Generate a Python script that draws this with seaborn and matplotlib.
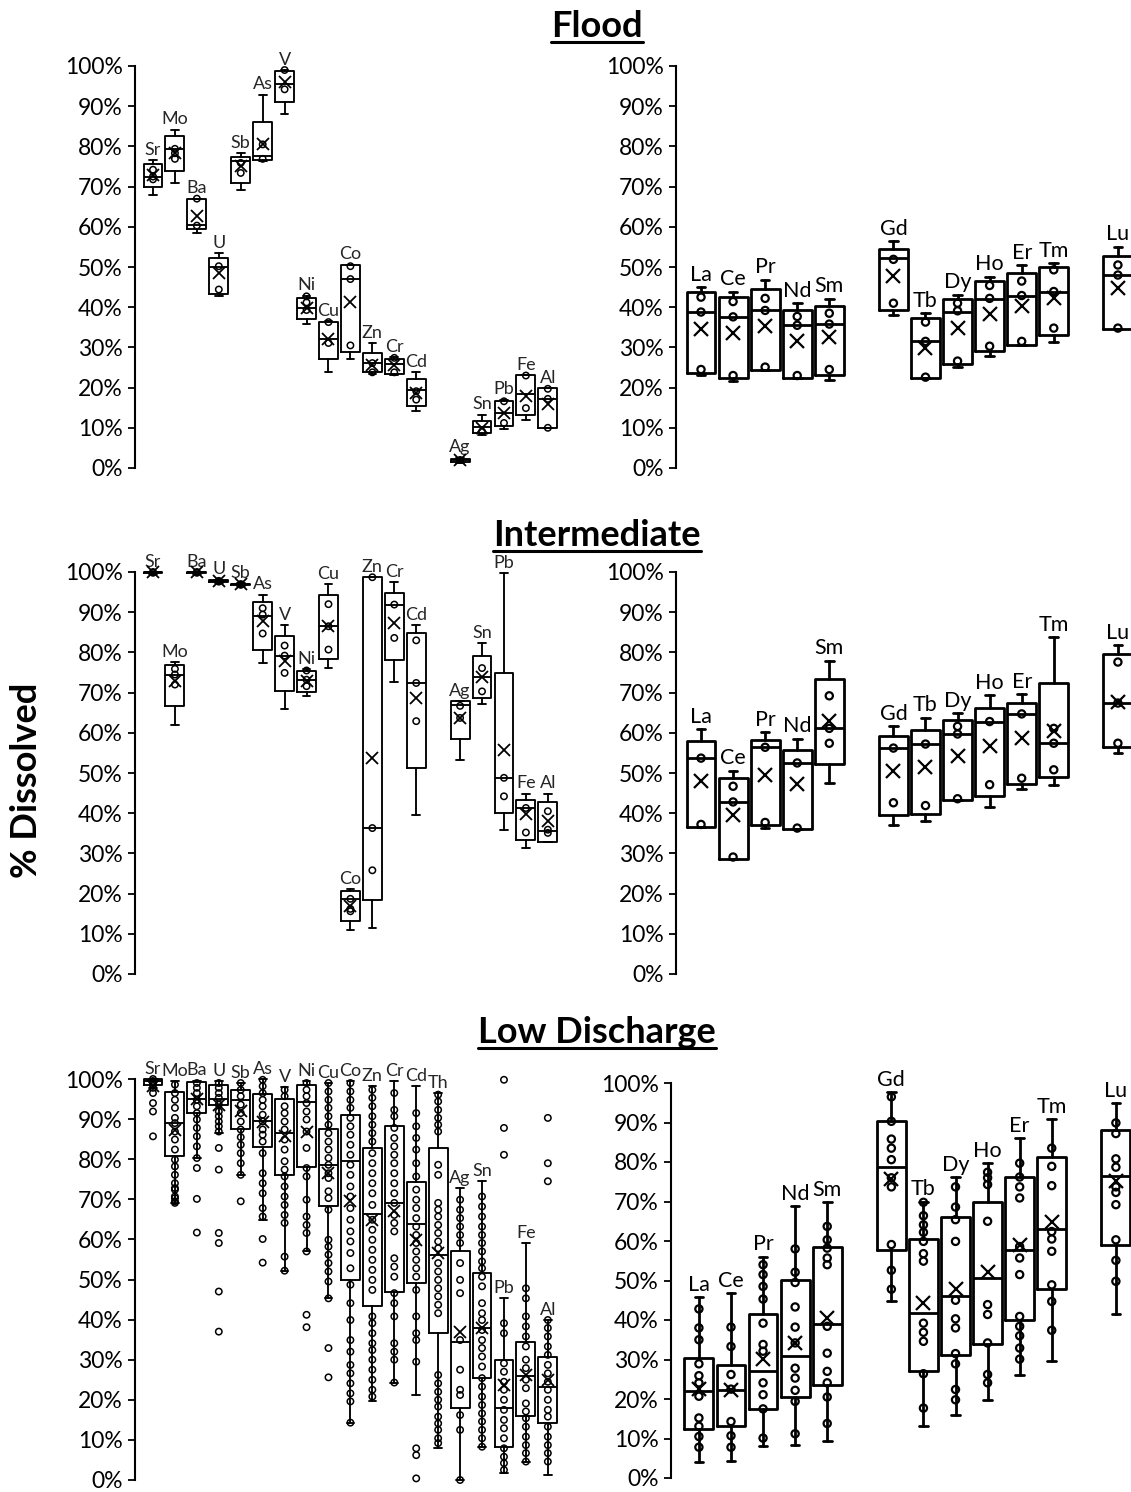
import numpy as np
import pandas as pd
import matplotlib
matplotlib.use("Agg")
import matplotlib.pyplot as plt
from matplotlib.lines import Line2D
from matplotlib.patches import Rectangle
import seaborn as sns

# ---------------- categories ----------------
major_categories = ['Sr', 'Mo', 'Ba', 'U', 'Sb', 'As', 'V', 'Ni', 'Cu', 'Co', 'Zn', 'Cr', 'Cd', 'Th',
                    'Ag', 'Sn', 'Pb', 'Fe', 'Al']
ree_categories = ['La', 'Ce', 'Pr', 'Nd', 'Sm', 'Eu', 'Gd', 'Tb', 'Dy', 'Ho', 'Er', 'Tm', 'Yb', 'Lu']

# ---------------- Flood : major / trace elements ----------------
flood_major_elements = ['Sr', 'Mo', 'Ba', 'U', 'Sb', 'As', 'V', 'Ni', 'Cu', 'Co', 'Zn', 'Cr', 'Cd',
                        'Ag', 'Sn', 'Pb', 'Fe', 'Al']
flood_major_low = [67.8, 70.8, 58.5, 42.7, 69.1, 76.4, 88.0, 35.7, 23.8, 27.0, 23.5, 23.2, 14.1, 1.2, 8.3, 9.7, 11.9, 10.0]
flood_major_q1 = [69.9, 73.9, 59.5, 43.4, 71.0, 76.6, 91.0, 37.1, 27.1, 28.8, 23.8, 23.4, 15.5, 1.6, 8.7, 10.5, 13.3, 10.0]
flood_major_median = [72.5, 79.3, 60.5, 50.0, 76.3, 77.6, 95.4, 39.8, 32.0, 46.9, 26.0, 25.8, 19.4, 2.0, 10.2, 13.7, 18.3, 17.2]
flood_major_q3 = [75.5, 82.5, 67.0, 52.3, 77.3, 86.1, 98.8, 42.3, 36.3, 50.6, 28.5, 27.1, 22.2, 2.3, 11.6, 16.6, 23.2, 19.9]
flood_major_high = [76.6, 84.2, 67.0, 53.5, 78.3, 92.9, 99.0, 42.9, 36.5, 50.6, 31.1, 27.6, 23.8, 2.6, 13.3, 17.0, 23.2, 19.9]
flood_major_mean = [73.0, 78.3, 62.8, 48.5, 75.1, 80.5, 95.9, 39.8, 32.0, 41.2, 25.7, 25.7, 18.7, 2.0, 10.0, 13.7, 18.0, 15.8]
flood_major_points = [[74.2, 72.5, 71.8], [79.4, 78.3, 76.9], [67.0, 60.3], [50.2, 44.4], [75.9, 73.4],
                      [80.5, 76.9], [99.0, 94.2], [42.7, 41.2, 39.3], [36.3, 31.1], [50.2, 47.0, 30.5],
                      [26.1, 23.8], [27.4, 23.8], [19.1, 17.0], [2.0], [9.1], [16.6, 11.2], [23.0, 14.9],
                      [19.7, 17.2, 10.0]]

# ---------------- Flood : REE ----------------
flood_ree_elements = ['La', 'Ce', 'Pr', 'Nd', 'Sm', 'Gd', 'Tb', 'Dy', 'Ho', 'Er', 'Tm', 'Lu']
flood_ree_low = [23.1, 21.6, 24.5, 22.4, 22.0, 38.0, 22.4, 25.1, 27.8, 30.7, 31.4, 34.7]
flood_ree_q1 = [23.7, 22.4, 24.5, 22.4, 23.1, 39.4, 22.4, 25.9, 29.0, 30.7, 33.0, 34.7]
flood_ree_median = [38.8, 37.6, 39.2, 35.5, 35.8, 52.3, 31.5, 38.9, 42.1, 42.7, 43.7, 48.0]
flood_ree_q3 = [43.7, 42.6, 44.5, 39.4, 40.2, 54.5, 37.3, 42.1, 46.4, 48.4, 50.1, 52.8]
flood_ree_high = [45.0, 43.9, 46.8, 41.0, 42.1, 56.4, 38.5, 43.1, 47.6, 50.5, 50.9, 55.0]
flood_ree_mean = [34.6, 33.6, 35.2, 31.7, 32.5, 47.8, 29.9, 34.8, 38.3, 40.2, 42.2, 44.7]
flood_ree_points = [[42.5, 38.8, 24.5], [41.4, 37.6, 23.0], [42.2, 39.2, 25.1], [37.7, 35.5, 23.0],
                    [38.5, 35.8, 24.5], [51.9, 41.0], [36.3, 31.5, 22.6], [41.0, 39.1, 26.6],
                    [45.4, 42.2, 30.3], [46.5, 42.9, 31.5], [49.3, 43.9, 34.8], [50.5, 48.0, 34.8]]

# ---------------- Intermediate : major / trace elements ----------------
inter_major_elements = ['Sr', 'Mo', 'Ba', 'U', 'Sb', 'As', 'V', 'Ni', 'Cu', 'Co', 'Zn', 'Cr', 'Cd',
                        'Ag', 'Sn', 'Pb', 'Fe', 'Al']
inter_major_low = [99.6, 62.0, 99.6, 97.2, 96.5, 77.4, 65.9, 69.2, 76.1, 11.0, 11.4, 72.6, 39.6, 53.2, 67.2, 35.9, 31.3, 32.8]
inter_major_q1 = [99.7, 66.6, 99.7, 97.4, 96.7, 80.7, 70.3, 70.1, 78.4, 13.1, 18.5, 78.0, 51.2, 58.5, 68.7, 40.0, 33.4, 32.8]
inter_major_median = [99.9, 74.5, 99.9, 97.7, 96.9, 89.1, 79.0, 73.2, 86.5, 18.7, 36.3, 91.9, 72.4, 67.0, 74.0, 48.8, 41.3, 35.5]
inter_major_q3 = [100.0, 76.9, 100.0, 98.0, 97.1, 92.5, 84.0, 75.4, 94.4, 20.6, 98.7, 94.9, 84.8, 67.8, 79.2, 75.0, 43.2, 42.7]
inter_major_high = [100.0, 77.5, 100.0, 98.1, 97.3, 94.4, 86.7, 75.9, 96.9, 21.1, 98.7, 97.4, 86.7, 67.8, 82.3, 99.8, 44.9, 44.9]
inter_major_mean = [99.9, 72.8, 99.9, 97.7, 96.9, 87.7, 77.8, 73.0, 86.5, 17.0, 53.7, 87.3, 68.7, 63.7, 74.0, 55.6, 39.9, 38.0]
inter_major_points = [[100.0, 99.8], [75.9, 74.5, 72.0], [100.0, 99.8], [97.8, 97.6], [97.0, 96.8],
                      [91.0, 89.4, 84.7], [81.7, 79.2, 74.9], [75.5, 73.2, 71.6], [92.0, 86.5, 80.7],
                      [18.7, 16.2, 15.6], [98.7, 36.3, 25.8], [91.9, 83.6], [83.0, 72.4, 62.9],
                      [66.7, 63.7], [76.1, 70.3], [48.8, 44.2], [41.3, 35.2], [40.5, 35.9, 35.1]]

# ---------------- Intermediate : REE ----------------
inter_ree_elements = ['La', 'Ce', 'Pr', 'Nd', 'Sm', 'Gd', 'Tb', 'Dy', 'Ho', 'Er', 'Tm', 'Lu']
inter_ree_low = [36.6, 28.7, 36.3, 36.0, 47.6, 37.0, 38.0, 43.2, 41.5, 45.9, 47.1, 55.0]
inter_ree_q1 = [36.6, 28.7, 37.0, 36.0, 52.3, 39.6, 39.9, 43.2, 44.4, 47.3, 49.0, 56.4]
inter_ree_median = [53.7, 42.8, 56.4, 52.5, 61.1, 56.2, 57.2, 59.7, 62.8, 64.7, 57.4, 67.4]
inter_ree_q3 = [57.9, 48.7, 58.3, 55.8, 73.3, 59.1, 60.8, 63.3, 66.1, 67.4, 72.3, 79.5]
inter_ree_high = [60.9, 50.6, 60.1, 58.5, 77.9, 61.6, 63.7, 64.9, 69.4, 69.6, 83.8, 81.8]
inter_ree_mean = [48.1, 39.5, 49.4, 47.3, 63.0, 50.6, 51.4, 54.3, 56.6, 58.6, 60.5, 67.7]
inter_ree_points = [[53.7, 37.2], [46.7, 42.8, 29.1], [56.4, 37.7], [52.5, 36.3], [69.2, 61.1, 57.4],
                    [56.2, 42.6], [57.2, 41.9], [61.6, 59.7, 43.6], [62.8, 47.1], [64.7, 48.7],
                    [61.1, 57.4, 50.8], [77.6, 67.4, 57.4]]

# ---------------- Low discharge : major / trace elements ----------------
low_major_elements = ['Sr', 'Mo', 'Ba', 'U', 'Sb', 'As', 'V', 'Ni', 'Cu', 'Co', 'Zn', 'Cr', 'Cd', 'Th',
                      'Ag', 'Sn', 'Pb', 'Fe', 'Al']
low_major_low = [97.8, 69.1, 80.3, 86.5, 76.1, 64.9, 52.2, 57.0, 45.3, 14.3, 19.6, 24.3, 21.2, 7.9, 0.0, 8.3, 1.7, 4.6, 1.2]
low_major_q1 = [98.6, 80.7, 91.5, 93.6, 87.5, 83.0, 76.1, 78.0, 68.4, 49.8, 43.3, 46.8, 49.1, 36.6, 17.9, 25.4, 8.3, 16.0, 14.3]
low_major_median = [99.4, 89.0, 95.0, 95.0, 94.7, 89.6, 86.5, 94.2, 78.6, 79.5, 66.4, 69.2, 63.9, 56.2, 34.5, 37.9, 17.9, 26.0, 23.1]
low_major_q3 = [100.0, 96.7, 99.2, 98.6, 97.3, 96.3, 95.0, 98.6, 87.5, 91.1, 82.8, 88.4, 74.2, 82.8, 57.0, 51.7, 30.0, 34.3, 30.6]
low_major_high = [100.0, 99.4, 99.6, 99.4, 99.0, 100.0, 97.9, 99.4, 99.0, 99.4, 98.2, 99.4, 98.2, 96.5, 72.8, 74.5, 45.3, 59.1, 39.9]
low_major_mean = [98.2, 87.4, 94.9, 93.6, 91.9, 89.4, 85.7, 86.9, 76.5, 69.5, 64.9, 67.0, 59.9, 56.6, 37.0, 37.9, 23.7, 26.2, 25.0]
low_major_points = [
    [100.0, 99.5, 99.0, 98.6, 97.8, 96.5, 94.0, 91.9, 85.7],
    [98.6, 96.5, 94.8, 92.8, 90.3, 89.0, 86.9, 84.9, 82.4, 79.9, 78.2, 76.1, 74.0, 72.8, 72.4, 70.7, 70.3, 69.5, 69.1],
    [99.0, 97.8, 96.5, 94.8, 93.2, 91.5, 89.9, 87.8, 85.7, 83.2, 80.3, 77.8, 70.1, 61.7],
    [99.0, 97.8, 96.5, 95.3, 93.6, 91.9, 90.7, 89.4, 88.2, 86.9, 82.8, 77.4, 61.6, 59.1, 47.0, 37.0],
    [99.0, 97.3, 95.7, 93.6, 91.5, 89.4, 87.4, 85.5, 83.6, 81.5, 79.0, 76.1, 69.5],
    [99.8, 98.2, 96.5, 94.8, 93.2, 91.1, 89.4, 87.4, 86.1, 84.4, 81.5, 76.5, 74.0, 71.5, 67.8, 65.7, 60.1, 54.2],
    [97.3, 95.7, 93.2, 91.5, 89.4, 87.4, 84.9, 82.4, 79.5, 77.4, 75.7, 73.2, 70.7, 68.6, 66.1, 64.1, 55.7, 52.2],
    [99.0, 97.3, 95.7, 94.0, 91.9, 89.9, 86.9, 82.8, 77.8, 75.7, 69.9, 65.7, 63.6, 61.6, 57.0, 41.2, 38.1],
    [99.0, 96.9, 94.8, 92.8, 90.7, 88.6, 86.5, 84.4, 82.4, 80.3, 78.6, 76.5, 75.3, 72.0, 70.3, 67.4, 59.9, 58.2,
     56.2, 54.1, 52.0, 49.5, 45.3, 32.9, 25.6],
    [99.0, 96.9, 94.8, 92.8, 90.3, 88.2, 86.1, 83.6, 81.1, 78.6, 76.1, 73.2, 70.7, 67.8, 64.9, 62.0, 59.5, 56.6,
     52.8, 48.7, 44.1, 39.9, 34.9, 32.0, 28.7, 26.6, 24.1, 21.6, 19.6, 14.3],
    [97.3, 95.3, 93.2, 90.7, 88.6, 86.5, 84.4, 81.5, 79.0, 76.5, 74.0, 71.5, 68.6, 64.9, 62.4, 59.9, 57.4, 54.9,
     52.4, 49.9, 47.4, 40.8, 39.1, 36.6, 34.1, 32.4, 30.0, 27.5, 25.0, 22.5, 20.8],
    [96.5, 92.3, 90.7, 87.8, 85.3, 83.2, 81.1, 79.0, 76.5, 74.0, 71.5, 69.1, 66.1, 64.1, 62.0, 55.3, 53.2, 50.7,
     46.6, 44.1, 40.8, 34.1, 32.0, 30.0, 24.3],
    [91.5, 88.2, 85.3, 82.4, 79.0, 75.7, 72.4, 69.9, 67.8, 65.3, 63.2, 61.1, 59.1, 57.0, 54.9, 52.8, 50.7, 47.4,
     40.8, 36.6, 34.9, 29.5, 7.9, 6.2, 0.4],
    [96.1, 94.4, 92.3, 90.3, 88.6, 86.9, 78.6, 76.1, 69.1, 67.4, 65.7, 63.6, 61.6, 59.5, 57.8, 54.1, 52.0, 49.9,
     47.8, 45.8, 43.7, 41.6, 26.2, 24.1, 22.0, 20.0, 18.3, 15.8, 14.1, 12.5, 10.4, 9.2],
    [69.9, 67.4, 65.3, 63.2, 61.1, 59.1, 54.1, 49.9, 46.6, 34.9, 27.5, 22.5, 21.2, 16.2, 12.5, 0.0],
    [70.7, 68.2, 65.7, 63.2, 61.1, 59.1, 57.0, 54.5, 52.8, 50.7, 48.3, 44.1, 41.6, 39.9, 37.4, 34.9, 32.9, 30.8,
     28.3, 25.4, 23.3, 20.8, 18.7, 16.6, 14.6, 12.5, 10.4, 8.3],
    [39.1, 36.6, 29.1, 27.0, 24.5, 22.5, 20.0, 17.5, 15.0, 12.9, 10.4, 7.9, 5.8, 4.2, 2.5, 99.8, 87.8, 81.1],
    [47.8, 45.3, 40.8, 38.3, 35.8, 33.3, 30.0, 27.9, 25.0, 22.9, 19.1, 17.1, 15.4, 13.3, 10.8, 8.7, 6.7, 4.6],
    [39.9, 37.9, 35.8, 33.3, 31.2, 28.7, 26.6, 24.5, 22.5, 20.0, 17.5, 15.8, 13.3, 10.8, 8.7, 6.7, 4.6,
     90.3, 79.0, 74.5],
]

# ---------------- Low discharge : REE ----------------
low_ree_elements = ['La', 'Ce', 'Pr', 'Nd', 'Sm', 'Gd', 'Tb', 'Dy', 'Ho', 'Er', 'Tm', 'Lu']
low_ree_low = [4.0, 4.2, 8.0, 8.4, 9.3, 44.7, 13.2, 16.0, 19.8, 26.2, 29.5, 41.4]
low_ree_q1 = [12.4, 13.1, 17.5, 20.5, 23.6, 57.6, 27.0, 31.2, 34.0, 40.1, 47.8, 59.1]
low_ree_median = [21.9, 22.2, 27.0, 31.0, 39.1, 78.7, 41.8, 46.2, 50.6, 57.8, 63.0, 76.5]
low_ree_q3 = [30.4, 28.7, 41.6, 50.2, 58.6, 90.5, 60.5, 66.2, 70.0, 76.2, 81.3, 88.2]
low_ree_high = [45.8, 46.8, 56.0, 68.9, 69.8, 97.6, 70.0, 76.2, 79.7, 86.1, 90.9, 94.9]
low_ree_mean = [22.5, 22.4, 30.1, 34.2, 40.5, 75.7, 44.3, 47.8, 52.1, 59.1, 64.7, 75.1]
low_ree_points = [
    [42.8, 38.0, 35.0, 28.9, 25.9, 24.1, 20.7, 15.2, 13.1, 10.5, 7.8],
    [38.2, 33.3, 26.2, 22.5, 14.3, 10.7, 7.8],
    [54.0, 51.5, 48.5, 45.3, 39.2, 33.8, 32.1, 24.1, 21.1, 17.5, 10.1],
    [58.0, 52.1, 49.5, 43.3, 38.2, 34.2, 27.8, 25.3, 22.2, 19.4, 11.2],
    [63.7, 60.3, 58.2, 55.7, 54.0, 38.4, 31.6, 27.0, 24.1, 20.5, 13.8],
    [96.5, 90.3, 85.8, 83.5, 80.6, 76.0, 73.7, 59.1, 52.6, 47.8],
    [69.8, 66.4, 64.1, 62.2, 59.9, 56.8, 54.9, 39.2, 36.9, 34.6, 26.4, 17.7],
    [73.7, 68.6, 65.4, 59.9, 45.0, 40.3, 38.0, 31.5, 28.9, 22.4, 19.8],
    [77.4, 76.0, 74.3, 65.0, 43.9, 41.4, 34.2, 26.2, 24.1],
    [79.7, 76.2, 73.7, 70.9, 58.6, 55.7, 51.5, 40.9, 38.4, 36.0, 32.9, 30.1],
    [83.5, 78.9, 74.0, 62.4, 60.5, 57.4, 48.9, 44.7, 37.4],
    [89.9, 87.2, 80.8, 78.7, 73.7, 72.3, 69.2, 60.3, 55.1, 49.8],
]

# ---------------- figure ----------------
W, H = 1131, 1492
sns.set_style("ticks")
plt.rcParams['font.family'] = ['Lato', 'DejaVu Sans']
fig = plt.figure(figsize=(W / 100, H / 100), dpi=100)


def axes_px(left, top, width, bottom):
    return fig.add_axes([left / W, 1 - bottom / H, width / W, (bottom - top) / H])


def draw_panel(ax, cats, elements, lo, q1, med, q3, hi, mean, pts, big, xlim):
    lw = 2.0 if big else 1.35
    box_w = 0.9 if big else 0.86
    cap_w = 0.27 if big else 0.35
    stats = []
    for e, a, b, c, d, f, m in zip(elements, lo, q1, med, q3, hi, mean):
        stats.append(dict(label=e, whislo=a, q1=b, med=c, q3=d, whishi=f, mean=m, fliers=[]))
    positions = [cats.index(e) for e in elements]
    line = dict(color='black', linewidth=lw)
    res = ax.bxp(stats, positions=positions, widths=box_w, capwidths=cap_w, showmeans=True,
                 showfliers=False, manage_ticks=False, boxprops=line, whiskerprops=line,
                 capprops=line, medianprops=dict(color='black', linewidth=lw),
                 meanprops=dict(marker='x', markeredgecolor='black', markerfacecolor='black',
                                markersize=10 if big else 8, markeredgewidth=1.6 if big else 1.3))
    for group in res.values():
        for art in group:
            art.set_clip_on(False)
    for art in res['means']:
        art.set_zorder(5)

    rows = [(e, v) for e, vals in zip(elements, pts) for v in vals]
    df = pd.DataFrame(rows, columns=['element', 'value'])
    n_before = len(ax.collections)
    sns.stripplot(data=df, x='element', y='value', order=cats, jitter=False,
                  size=5.2 if big else 4.6, color='white', edgecolor='black',
                  linewidth=1.6 if big else 1.1, ax=ax, zorder=4)
    for coll in ax.collections[n_before:]:
        coll.set_facecolor('none')
        coll.set_clip_on(False)

    for e, p, f in zip(elements, positions, hi):
        ax.text(p, f + (1.6 if big else 1.3), e, ha='center', va='baseline',
                fontsize=15.5 if big else 13, color='black' if big else '#262626', clip_on=False)

    ax.set_xlim(*xlim)
    ax.set_ylim(0, 100)
    ax.set_yticks(range(0, 101, 10))
    ax.set_yticklabels([f'{v}%' for v in range(0, 101, 10)])
    ax.set_xticks([])
    ax.set_xlabel('')
    ax.set_ylabel('')
    for s in ['top', 'right', 'bottom']:
        ax.spines[s].set_visible(False)
    ax.spines['left'].set_linewidth(1.5)
    ax.spines['left'].set_color('black')
    ax.tick_params(axis='y', length=5, width=1.3, labelsize=16.5, pad=4, color='black',
                   labelcolor='black', direction='out')
    ax.patch.set_alpha(0)


left_xlim = (-0.82, 18.6)

# Row 1: Flood
ax = axes_px(135, 66, 426, 468)
draw_panel(ax, major_categories, flood_major_elements, flood_major_low, flood_major_q1, flood_major_median,
           flood_major_q3, flood_major_high, flood_major_mean, flood_major_points, False, left_xlim)
ax = axes_px(676, 66, 490, 468)
draw_panel(ax, ree_categories, flood_ree_elements, flood_ree_low, flood_ree_q1, flood_ree_median,
           flood_ree_q3, flood_ree_high, flood_ree_mean, flood_ree_points, True, (-0.78, 14.5))

# Row 2: Intermediate
ax = axes_px(135, 572, 426, 974)
draw_panel(ax, major_categories, inter_major_elements, inter_major_low, inter_major_q1, inter_major_median,
           inter_major_q3, inter_major_high, inter_major_mean, inter_major_points, False, left_xlim)
ax = axes_px(676, 572, 490, 974)
draw_panel(ax, ree_categories, inter_ree_elements, inter_ree_low, inter_ree_q1, inter_ree_median,
           inter_ree_q3, inter_ree_high, inter_ree_mean, inter_ree_points, True, (-0.78, 14.5))

# Row 3: Low discharge
ax = axes_px(135, 1079, 426, 1480)
draw_panel(ax, major_categories, low_major_elements, low_major_low, low_major_q1, low_major_median,
           low_major_q3, low_major_high, low_major_mean, low_major_points, False, left_xlim)
ax = axes_px(671, 1083, 493, 1478)
draw_panel(ax, ree_categories, low_ree_elements, low_ree_low, low_ree_q1, low_ree_median,
           low_ree_q3, low_ree_high, low_ree_mean, low_ree_points, True, (-0.87, 14.5))

# Titles (bold, underlined)
titles = [('Flood', 37), ('Intermediate', 546), ('Low Discharge', 1043)]
title_artists = []
for txt, base in titles:
    t = fig.text(597 / W, 1 - base / H, txt, ha='center', va='baseline', fontsize=26,
                 fontweight='bold', color='black')
    title_artists.append((t, base))

fig.text(27 / W, 1 - 780 / H, '% Dissolved', rotation=90, ha='center', va='center',
         fontsize=26, fontweight='bold', color='black')

fig.canvas.draw()
renderer = fig.canvas.get_renderer()
for t, base in title_artists:
    bb = t.get_window_extent(renderer)
    y = 1 - (base + 5) / H
    fig.add_artist(Line2D([bb.x0 / W, bb.x1 / W], [y, y], transform=fig.transFigure,
                          color='black', linewidth=2.2))

# keep the blank bottom-left corner clean
fig.add_artist(Rectangle((0, 0), 16 / W, 18 / H, transform=fig.transFigure,
                         facecolor='white', edgecolor='none', zorder=1000))

fig.savefig('out.png', dpi=100)
